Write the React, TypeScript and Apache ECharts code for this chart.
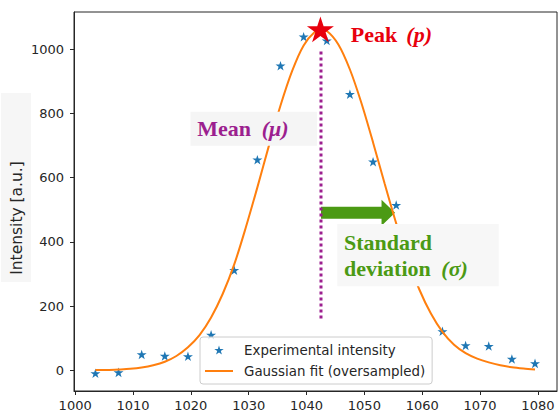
import React, { useEffect, useRef } from 'react';
import * as echarts from 'echarts';

// Measured spectrum: wavelength positions and intensities
const expX = [1003.5, 1007.5, 1011.5, 1015.5, 1019.5, 1023.5, 1027.5, 1031.5, 1035.5, 1039.5, 1043.5, 1047.5, 1051.5, 1055.5, 1059.5, 1063.5, 1067.5, 1071.5, 1075.5, 1079.5];
const expY = [-9, -6, 50, 45, 44, 111, 312, 656, 949, 1039, 1027, 860, 650, 515, 340, 122, 78, 76, 36, 22];

// Oversampled Gaussian fit
const fitX = [1003.5, 1005.5, 1007.5, 1009.5, 1011.5, 1013.5, 1015.5, 1017.5, 1019.5, 1021.5, 1023.5, 1025.5, 1027.5, 1029.5, 1031.5, 1033.5, 1035.5, 1037.5, 1039.5, 1041.5, 1042.5, 1043.5, 1045.5, 1047.5, 1049.5, 1051.5, 1053.5, 1055.5, 1057.5, 1059.5, 1061.5, 1063.5, 1065.5, 1067.5, 1069.5, 1071.5, 1073.5, 1075.5, 1077.5, 1079.5];
const fitY = [1, 1.5, 3, 5, 9, 16, 27, 45, 72, 110, 165, 238, 330, 445, 570, 700, 825, 932, 1012, 1055, 1060, 1057, 1015, 937, 832, 710, 582, 458, 346, 252, 177, 120, 80, 54, 37, 25, 16, 10, 6, 3];

// Fit parameters shown as annotations
const peakX = 1042.4;
const peakY = 1062;
const meanX = 1042.5;
const meanLineTop = 993;
const meanLineBottom = 152;
const sigmaEndX = 1055.3;
const sigmaArrowY = 491;

const xTicks = [1000, 1010, 1020, 1030, 1040, 1050, 1060, 1070, 1080];
const yTicks = [0, 200, 400, 600, 800, 1000];

const STAR =
  'path://M1000 0 L1224.5 691 L1951.1 691 L1363.3 1118 L1587.8 1809 L1000 1382 L412.2 1809 L636.7 1118 L48.9 691 L775.5 691 Z';
const LINE_ICON = 'path://M0 0 L28 0 L28 2 L0 2 Z';

const RED = '#e8000d';
const PURPLE = '#9c1f8f';
const GREEN = '#4b9a14';
const INK = '#262626';
const SERIF = '"Liberation Serif", "Times New Roman", serif';
const SANS = '"DejaVu Sans", sans-serif';

function annotation(x: number, y: number, text: string, color: string, italic = false) {
  return {
    type: 'text',
    x,
    y,
    z: 110,
    style: {
      text,
      fill: color,
      fontFamily: SERIF,
      fontSize: 22,
      fontWeight: 'bold',
      fontStyle: italic ? 'italic' : 'normal',
      align: 'left',
      verticalAlign: 'middle',
    },
  };
}

export default function App() {
  const ref = useRef<HTMLDivElement>(null);

  useEffect(() => {
    if (!ref.current) return;
    const chart = echarts.init(ref.current, null, { renderer: 'svg' });

    const expData = expX.map((x, i) => [x, expY[i]]);
    const fitData = fitX.map((x, i) => [x, fitY[i]]);

    const axisCommon = {
      type: 'value',
      splitLine: { show: false },
      axisLine: { show: true, onZero: false, lineStyle: { color: INK, width: 1 } },
    };
    const labelCommon = {
      fontSize: 13,
      fontFamily: SANS,
      color: INK,
      formatter: (v: number) => String(v),
    };

    chart.setOption({
      animation: false,
      backgroundColor: '#ffffff',
      grid: {
        left: 74,
        right: 1,
        top: 12,
        bottom: 25,
        show: true,
        borderColor: INK,
        borderWidth: 1,
        backgroundColor: 'transparent',
      },
      xAxis: {
        ...axisCommon,
        min: 999.8,
        max: 1083.3,
        interval: 10,
        axisTick: { show: true, length: 4, lineStyle: { color: INK }, customValues: xTicks },
        axisLabel: { ...labelCommon, customValues: xTicks, margin: 8 },
      },
      yAxis: {
        ...axisCommon,
        min: -64,
        max: 1116,
        interval: 200,
        axisTick: { show: true, length: 4, lineStyle: { color: INK }, customValues: yTicks },
        axisLabel: { ...labelCommon, customValues: yTicks, margin: 10 },
      },
      legend: {
        data: [
          { name: 'Experimental intensity', icon: STAR },
          { name: 'Gaussian fit (oversampled)', icon: LINE_ICON },
        ],
        orient: 'vertical',
        left: 200,
        top: 337,
        padding: [5, 7, 5, 5],
        itemGap: 5,
        itemWidth: 28,
        itemHeight: 9,
        symbolKeepAspect: true,
        selectedMode: false,
        backgroundColor: 'rgba(255,255,255,0.8)',
        borderColor: '#cccccc',
        borderWidth: 1,
        borderRadius: 3,
        z: 20,
        textStyle: { fontFamily: SANS, fontSize: 13.4, color: INK, lineHeight: 16, padding: [0, 0, 0, 6] },
      },
      series: [
        {
          name: 'Experimental intensity',
          type: 'scatter',
          data: expData,
          symbol: STAR,
          symbolSize: 10,
          symbolKeepAspect: true,
          itemStyle: { color: '#1f77b4', opacity: 1 },
          z: 3,
        },
        {
          name: 'sigma',
          type: 'custom',
          coordinateSystem: 'cartesian2d',
          encode: { x: [0, 1], y: 2 },
          data: [[meanX, sigmaEndX, sigmaArrowY]],
          clip: false,
          z: 3,
          renderItem: (_params: any, api: any) => {
            const s = api.coord([api.value(0), api.value(2)]);
            const e = api.coord([api.value(1), api.value(2)]);
            const hw = 6;
            const hh = 13;
            const hl = 13.5;
            return {
              type: 'polygon',
              shape: {
                points: [
                  [s[0], s[1] - hw],
                  [e[0] - hl, s[1] - hw],
                  [e[0] - hl, s[1] - hh],
                  [e[0], s[1]],
                  [e[0] - hl, s[1] + hh],
                  [e[0] - hl, s[1] + hw],
                  [s[0], s[1] + hw],
                ],
              },
              style: { fill: GREEN },
            };
          },
        },
        {
          name: 'mean',
          type: 'line',
          data: [
            [meanX, meanLineTop],
            [meanX, meanLineBottom],
          ],
          symbol: 'none',
          lineStyle: { color: PURPLE, width: 3, type: [3, 3] },
          z: 3,
        },
        {
          name: 'Gaussian fit (oversampled)',
          type: 'line',
          data: fitData,
          symbol: 'none',
          showSymbol: false,
          smooth: 0.3,
          lineStyle: { color: '#ff7f0e', width: 2 },
          itemStyle: { color: '#ff7f0e' },
          z: 4,
        },
        {
          name: 'peak',
          type: 'scatter',
          data: [[peakX, peakY]],
          symbol: STAR,
          symbolSize: 27,
          symbolKeepAspect: true,
          itemStyle: { color: RED, opacity: 1 },
          z: 6,
        },
      ],
      graphic: [
        { type: 'rect', z: 100, shape: { x: 1, y: 93, width: 30, height: 189 }, style: { fill: '#f6f6f6' } },
        {
          type: 'text',
          x: 17,
          y: 218,
          rotation: Math.PI / 2,
          z: 110,
          style: {
            text: 'Intensity [a.u.]',
            fill: INK,
            fontFamily: SANS,
            fontSize: 15.5,
            align: 'center',
            verticalAlign: 'middle',
          },
        },
        { type: 'rect', z: 100, shape: { x: 190.5, y: 111.7, width: 126.5, height: 34 }, style: { fill: '#f5f5f5' } },
        { type: 'rect', z: 100, shape: { x: 337.3, y: 224, width: 161.4, height: 62.3 }, style: { fill: '#f7f7f7' } },
        annotation(350.7, 34.2, 'Peak', RED),
        annotation(406.3, 34.2, '(p)', RED, true),
        annotation(197.3, 128.5, 'Mean', PURPLE),
        annotation(261.7, 128.5, '(μ)', PURPLE, true),
        annotation(344, 242.2, 'Standard', GREEN),
        annotation(344, 268.8, 'deviation', GREEN),
        annotation(441.3, 268.8, '(σ)', GREEN, true),
      ],
    });

    return () => chart.dispose();
  }, []);

  return (
    <div
      ref={ref}
      style={{ position: 'fixed', left: 0, top: 0, width: 558, height: 416, background: '#fff' }}
    />
  );
}
